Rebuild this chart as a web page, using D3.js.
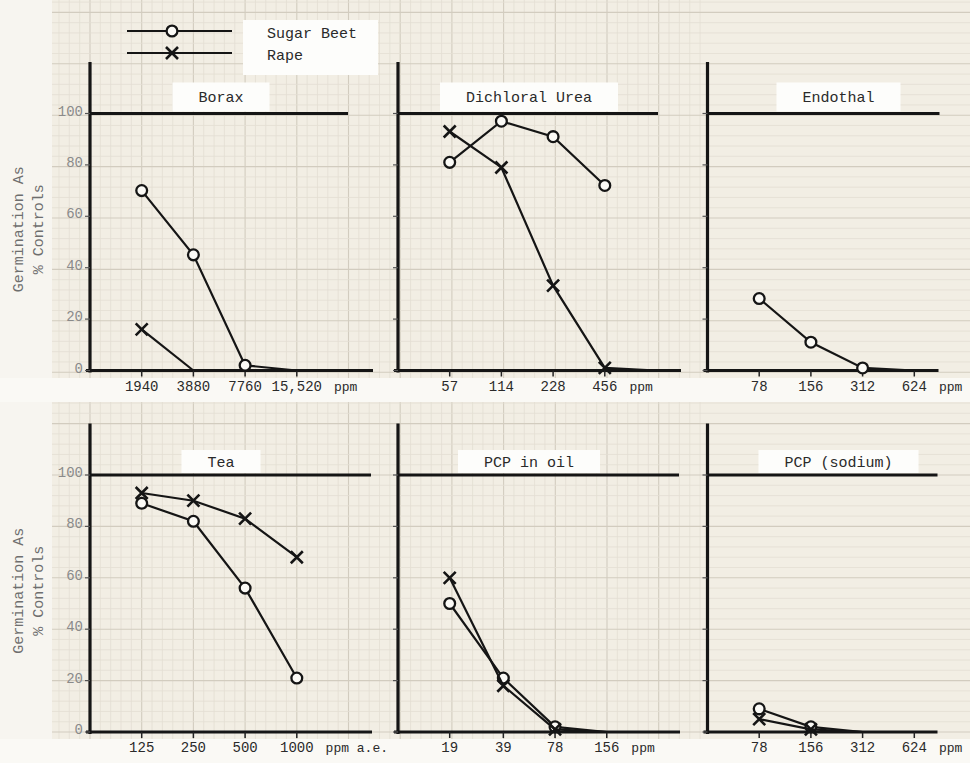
<!DOCTYPE html>
<html>
<head>
<meta charset="utf-8">
<script src="https://cdn.jsdelivr.net/npm/d3@7"></script>
<style>
  body { margin: 0; background: #f6f4ee; }
  svg { display: block; }
  text { font-family: "Liberation Mono", "DejaVu Sans Mono", monospace; }
</style>
</head>
<body>
<div id="wrapper"></div>
<script>
// panel titles, read left to right, top to bottom
const panelTitles = ["Borax", "Dichloral Urea", "Endothal", "Tea", "PCP in oil", "PCP (sodium)"];

// concentrations (ppm) for each panel; the last one is where a line runs out along zero
const doses = [
  [1940, 3880, 7760, 15520],
  [57, 114, 228, 456, 912],
  [78, 156, 312, 624],
  [125, 250, 500, 1000],
  [19, 39, 78, 156],
  [78, 156, 312, 624]
];

const tickLabels = [
  ["1940", "3880", "7760", "15,520"],
  ["57", "114", "228", "456"],
  ["78", "156", "312", "624"],
  ["125", "250", "500", "1000"],
  ["19", "39", "78", "156"],
  ["78", "156", "312", "624"]
];
const unitLabels = ["ppm", "ppm", "ppm", "ppm a.e.", "ppm", "ppm"];

// germination as % of controls
const sugarBeet = [
  [70, 45, 2, 0],
  [81, 97, 91, 72],
  [28, 11, 1, 0],
  [89, 82, 56, 21],
  [50, 21, 2, 0],
  [9, 2, 0]
];
const rape = [
  [16, 0],
  [93, 79, 33, 1, 0],
  [],
  [93, 90, 83, 68],
  [60, 18, 1, 0],
  [5, 1, 0]
];

const yTicks = [0, 20, 40, 60, 80, 100];

const width = 970;
const height = 763;

// layout of the 2 x 3 panels
const colLeft = [90, 398, 707.5];
const rowBottom = [370.5, 732];
const stepPx = 51.7;          // one doubling of concentration
const unitPx = 2.57;          // one percentage point
const refLineLen = [258, 260, 232, 281, 281, 230];
const baseLineLen = [283, 283, 231, 282, 282, 230];

const wrapper = d3.select('#wrapper')
  .append('svg')
  .attr('width', width)
  .attr('height', height)

// graph paper
const paper = wrapper.append('g')
paper.append('rect')
  .attr('width', width)
  .attr('height', height)
  .attr('fill', '#f2eee4')

const minor = stepPx / 5;
const minorY = unitPx * 4;
d3.range(0, 100).forEach(i => {
  const x = colLeft[0] - 8 * stepPx + i * minor;
  if (x < 50 || x > width) return;
  paper.append('line')
    .attr('x1', x).attr('x2', x)
    .attr('y1', 0).attr('y2', height)
    .attr('stroke', i % 5 === 0 ? '#d2ccbf' : '#e3ded3')
    .attr('stroke-width', i % 5 === 0 ? 1.1 : 0.8)
})
d3.range(0, 100).forEach(i => {
  const y = rowBottom[1] - i * minorY;
  if (y < 0) return;
  paper.append('line')
    .attr('x1', 50).attr('x2', width)
    .attr('y1', y).attr('y2', y)
    .attr('stroke', i % 5 === 0 ? '#d2ccbf' : '#e3ded3')
    .attr('stroke-width', i % 5 === 0 ? 1.1 : 0.8)
})

// white strips: left margin and tick label bands
paper.append('rect')
  .attr('x', 0).attr('y', 0).attr('width', 52).attr('height', height)
  .attr('fill', '#f7f5f0')
paper.append('rect')
  .attr('x', 0).attr('y', 378).attr('width', width).attr('height', 24)
  .attr('fill', '#faf9f5')
paper.append('rect')
  .attr('x', 0).attr('y', 739).attr('width', width).attr('height', 24)
  .attr('fill', '#faf9f5')

// y axis titles
rowBottom.forEach(b => {
  const cy = b - 55 * unitPx;
  const lab = wrapper.append('g')
    .attr('transform', `translate(0, ${cy}) rotate(-90)`)
    .attr('fill', '#6e6e6e')
    .style('font-size', '15px')
    .style('text-anchor', 'middle')
  lab.append('text').attr('x', 0).attr('y', 23).text('Germination As')
  lab.append('text').attr('x', 0).attr('y', 43).text('% Controls')
})

const line = d3.line()

panelTitles.forEach((title, p) => {
  const row = Math.floor(p / 3);
  const col = p % 3;
  const L = colLeft[col];
  const B = rowBottom[row];
  const t0 = doses[p][0];

  const xScale = d3.scaleLog()
    .base(2)
    .domain([t0 / 2, t0 * 16])
    .range([L, L + 5 * stepPx])

  const yScale = d3.scaleLinear()
    .domain([0, 100])
    .range([B, B - 100 * unitPx])

  const g = wrapper.append('g')

  // frame: left axis, zero baseline, 100% reference
  g.append('line')
    .attr('x1', L).attr('x2', L)
    .attr('y1', yScale(120)).attr('y2', B + 2)
    .attr('stroke', '#151515').attr('stroke-width', 3.2)
  g.append('line')
    .attr('x1', L - 4).attr('x2', L + baseLineLen[p])
    .attr('y1', B).attr('y2', B)
    .attr('stroke', '#151515').attr('stroke-width', 3)
  g.append('line')
    .attr('x1', L).attr('x2', L + refLineLen[p])
    .attr('y1', yScale(100)).attr('y2', yScale(100))
    .attr('stroke', '#151515').attr('stroke-width', 2.8)

  // y ticks
  yTicks.forEach(v => {
    g.append('line')
      .attr('x1', L - 5).attr('x2', L)
      .attr('y1', yScale(v)).attr('y2', yScale(v))
      .attr('stroke', '#555').attr('stroke-width', 1.2)
    if (col === 0) {
      g.append('text')
        .attr('x', L - 7)
        .attr('y', yScale(v) + 2)
        .attr('fill', '#8a8a8a')
        .style('font-size', '14px')
        .style('text-anchor', 'end')
        .text(v)
    }
  })

  // x ticks and labels
  let lastLabel;
  tickLabels[p].forEach((lab, i) => {
    const x = xScale(doses[p][i]);
    g.append('line')
      .attr('x1', x).attr('x2', x)
      .attr('y1', B).attr('y2', B + 6)
      .attr('stroke', '#222').attr('stroke-width', 1.5)
    lastLabel = g.append('text')
      .attr('x', x)
      .attr('y', B + 20)
      .attr('fill', '#2a2a2a')
      .style('font-size', '14px')
      .style('text-anchor', 'middle')
      .text(lab)
  })
  const lastX = xScale(doses[p][3]);
  const lastW = lastLabel.node().getComputedTextLength();
  g.append('text')
    .attr('x', lastX + lastW / 2 + 12)
    .attr('y', B + 20)
    .attr('fill', '#2a2a2a')
    .style('font-size', '13px')
    .text(unitLabels[p])

  // panel title in a white box
  const boxH = row === 0 ? 29 : 23;
  const tw = title.length * 9;
  const cx = L + 131;
  g.append('rect')
    .attr('x', cx - tw / 2 - 26)
    .attr('y', yScale(100) - boxH - 2)
    .attr('width', tw + 52)
    .attr('height', boxH)
    .attr('fill', '#fdfdfb')
  g.append('text')
    .attr('x', cx)
    .attr('y', yScale(100) - 2 - boxH / 2 + 5)
    .attr('fill', '#2a2a2a')
    .style('font-size', '15px')
    .style('text-anchor', 'middle')
    .text(title)

  // series
  const series = [
    { values: sugarBeet[p], marker: 'circle' },
    { values: rape[p], marker: 'cross' }
  ];
  series.forEach(s => {
    if (!s.values.length) return;
    const pts = s.values.map((v, i) => [xScale(doses[p][i]), yScale(v)]);
    g.append('path')
      .attr('d', line(pts))
      .attr('fill', 'none')
      .attr('stroke', '#151515')
      .attr('stroke-width', 2.2)
    s.values.forEach((v, i) => {
      if (v <= 0) return;
      drawMarker(g, s.marker, xScale(doses[p][i]), yScale(v));
    })
  })
})

function drawMarker(sel, type, x, y) {
  if (type === 'circle') {
    sel.append('circle')
      .attr('cx', x).attr('cy', y).attr('r', 5.4)
      .attr('fill', '#fbfaf6')
      .attr('stroke', '#151515')
      .attr('stroke-width', 2.3)
  } else {
    const r = 6;
    sel.append('path')
      .attr('d', `M${x - r},${y - r}L${x + r},${y + r}M${x - r},${y + r}L${x + r},${y - r}`)
      .attr('stroke', '#151515')
      .attr('stroke-width', 2.6)
  }
}

// legend
const legend = wrapper.append('g')
legend.append('rect')
  .attr('x', 243).attr('y', 20).attr('width', 135).attr('height', 55)
  .attr('fill', '#fdfdfb')
const legendItems = [
  { name: 'Sugar Beet', marker: 'circle', y: 31 },
  { name: 'Rape', marker: 'cross', y: 53 }
];
legendItems.forEach(d => {
  legend.append('line')
    .attr('x1', 127).attr('x2', 232)
    .attr('y1', d.y).attr('y2', d.y)
    .attr('stroke', '#151515').attr('stroke-width', 2.2)
  drawMarker(legend, d.marker, 172, d.y);
  legend.append('text')
    .attr('x', 267)
    .attr('y', d.y + 7)
    .attr('fill', '#2a2a2a')
    .style('font-size', '15px')
    .text(d.name)
})
</script>
</body>
</html>
